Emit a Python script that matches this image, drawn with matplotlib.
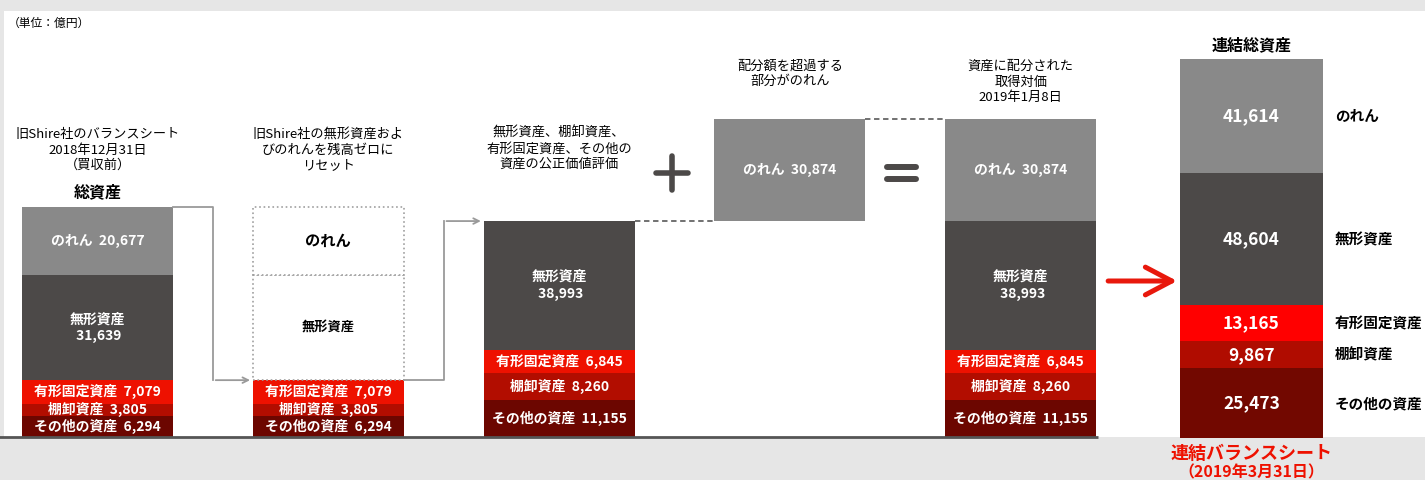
import matplotlib.pyplot as plt
from matplotlib.patches import Rectangle
from matplotlib.transforms import blended_transform_factory

plt.rcParams['font.family'] = ['Noto Sans CJK JP', 'DejaVu Sans']

# 単位：億円、上から のれん / 無形資産 / 有形固定資産 / 棚卸資産 / その他の資産
items = ['のれん', '無形資産', '有形固定資産', '棚卸資産', 'その他の資産']
shire_before = [20677, 31639, 7079, 3805, 6294]
fair_value = [0, 38993, 6845, 8260, 11155]
goodwill_excess = 30874
acquired = [30874, 38993, 6845, 8260, 11155]
consolidated = [41614, 48604, 13165, 9867, 25473]

titles = [
    '旧Shire社のバランスシート\n2018年12月31日\n（買収前）',
    '旧Shire社の無形資産およ\nびのれんを残高ゼロに\nリセット',
    '無形資産、棚卸資産、\n有形固定資産、その他の\n資産の公正価値評価',
    '配分額を超過する\n部分がのれん',
    '資産に配分された\n取得対価\n2019年1月8日',
]
title_px = [150, 150, 149, 74, 82]

colors = ['#898989', '#4c4948', '#ee1100', '#b20d00', '#6c0600']
colors_last = ['#898989', '#4c4948', '#ff0000', '#b00c00', '#720800']
line_gray = '#9a9a9a'
dark = '#4c4948'

W = 0.654
fig = plt.figure(figsize=(14.25, 4.8), dpi=100, facecolor='#e6e6e6')
fig.patches.append(Rectangle((4 / 1425, 43 / 480), 1, (437 - 11) / 480,
                             transform=fig.transFigure, facecolor='white',
                             edgecolor='none', zorder=-10))

ax = fig.add_axes([0, 0, 1, 1])
ax.set_xlim(-0.4225, 5.752)
ax.set_ylim(-12995, 132061)
ax.axis('off')
ax2 = ax.twinx()
ax2.set_ylim(-15372, 160308)
ax2.axis('off')

tr = blended_transform_factory(ax.transData, fig.transFigure)


def seg_label(name, v):
    if name == '無形資産':
        return f'{name}\n {v:,}'
    return f'{name}  {v:,}'


def stack(axis, x, vals, cols, width):
    # 下から積み上げ（その他の資産が一番下）
    bottom = 0
    pos = {}
    for name, v, c in reversed(list(zip(items, vals, cols))):
        if v:
            axis.bar(x, v, width, bottom=bottom, color=c, linewidth=0)
        pos[name] = (bottom, v)
        bottom += v
    return pos


# 1本目：買収前
p = stack(ax, 0, shire_before, colors, W)
for name, (b, v) in p.items():
    ax.text(0, b + v / 2, seg_label(name, v), ha='center', va='center',
            color='white', fontsize=10, fontweight='bold', linespacing=1.3)

# 2本目：のれん・無形資産をゼロにリセット
reset = [0, 0] + shire_before[2:]
p2 = stack(ax, 1, reset, colors, W)
for name, (b, v) in p2.items():
    if v:
        ax.text(1, b + v / 2, seg_label(name, v), ha='center', va='center',
                color='white', fontsize=10, fontweight='bold')
base2 = sum(shire_before[2:])
for name, v in zip(items[1::-1], shire_before[1::-1]):
    ax.bar(1, v, W, bottom=base2, facecolor='white', edgecolor='#a0a0a0',
           linestyle=':', linewidth=1.2)
    ax.text(1, base2 + v / 2, name, ha='center', va='center', color='black',
            fontsize=11 if name == 'のれん' else 9.5, fontweight='bold')
    base2 += v

# 3本目：公正価値評価
p3 = stack(ax, 2, fair_value, colors, W)
for name, (b, v) in p3.items():
    if v:
        ax.text(2, b + v / 2, seg_label(name, v), ha='center', va='center',
                color='white', fontsize=10, fontweight='bold', linespacing=1.3)

# のれん（超過分）
fv_total = sum(fair_value)
ax.bar(3, goodwill_excess, W, bottom=fv_total, color=colors[0], linewidth=0)
ax.text(3, fv_total + goodwill_excess / 2, seg_label('のれん', goodwill_excess),
        ha='center', va='center', color='white', fontsize=10, fontweight='bold')

# 4本目：取得対価
p4 = stack(ax, 4, acquired, colors, W)
for name, (b, v) in p4.items():
    ax.text(4, b + v / 2, seg_label(name, v), ha='center', va='center',
            color='white', fontsize=10, fontweight='bold', linespacing=1.3)

# 5本目：連結総資産（別スケール）
p5 = stack(ax2, 5, consolidated, colors_last, 0.62)
for name, (b, v) in p5.items():
    ax2.text(5, b + v / 2, f'{v:,}', ha='center', va='center', color='white',
             fontsize=12.5, fontweight='bold')
    ax2.text(5.362, b + v / 2, name, ha='left', va='center', color='black',
             fontsize=10.5, fontweight='bold')

# 基準線
ax.hlines(0, -0.43, 4 + W / 2 + 0.01, color='#555555', lw=2)

# 矢印付きコネクタ
total1 = sum(shire_before)
xm = (0 + W / 2 + 1 - W / 2) / 2
ax.plot([W / 2, xm, xm], [total1, total1, base2 - sum(shire_before[:2])],
        color=line_gray, lw=1.3)
ax.annotate('', xy=(1 - W / 2, sum(shire_before[2:])),
            xytext=(xm, sum(shire_before[2:])),
            arrowprops=dict(arrowstyle='->', color=line_gray, lw=1.3))
xm2 = (1 + W / 2 + 2 - W / 2) / 2
ax.plot([1 + W / 2, xm2, xm2], [sum(shire_before[2:]), sum(shire_before[2:]), fv_total],
        color=line_gray, lw=1.3)
ax.annotate('', xy=(2 - W / 2, fv_total), xytext=(xm2, fv_total),
            arrowprops=dict(arrowstyle='->', color=line_gray, lw=1.3))

# 破線
ax.plot([2 + W / 2, 3 - W / 2], [fv_total, fv_total], ls=(0, (3, 2)), color='#666666', lw=1.3)
top4 = fv_total + goodwill_excess
ax.plot([3 + W / 2, 4 - W / 2], [top4, top4], ls=(0, (3, 2)), color='#666666', lw=1.3)

# ＋ と ＝
gy = (437 - 173) * 302.2
cx = 2.489
ax.plot([cx - 0.07, cx + 0.07], [gy, gy], color=dark, lw=4, solid_capstyle='round')
ax.plot([cx, cx], [gy - 5000, gy + 5000], color=dark, lw=4, solid_capstyle='round')
ex = 3.483
for dy in (1700, -1700):
    ax.plot([ex - 0.062, ex + 0.062], [gy + dy, gy + dy], color=dark, lw=4.3,
            solid_capstyle='round')

# 赤い矢印
ay = (437 - 281) * 302.2
ax.annotate('', xy=(5 - 0.31, ay), xytext=(4 + W / 2 + 0.04, ay),
            arrowprops=dict(arrowstyle='->,head_length=0.95,head_width=0.5',
                            mutation_scale=20, color='#e8180c', lw=3.6,
                            capstyle='round', joinstyle='round'))

# タイトル類
for i, (t, py) in enumerate(zip(titles, title_px)):
    ax.text(i, 1 - py / 480, t, transform=tr, ha='center', va='center',
            fontsize=9.5, linespacing=1.25)
ax.text(0, 1 - 192 / 480, '総資産', transform=tr, ha='center', va='center',
        fontsize=11.5, fontweight='bold')
ax.text(5, 1 - 45 / 480, '連結総資産', transform=tr, ha='center', va='center',
        fontsize=11.5, fontweight='bold')
ax.text(5, 1 - 453 / 480, '連結バランスシート', transform=tr, ha='center',
        va='center', fontsize=13, fontweight='bold', color='#ee1100')
ax.text(5, 1 - 472 / 480, '（2019年3月31日）', transform=tr, ha='center',
        va='center', fontsize=11.5, fontweight='bold', color='#ee1100')
fig.text(8 / 1425, 1 - 23 / 480, '（単位：億円）', ha='left', va='center',
         fontsize=8.5)

fig.savefig('out.png', dpi=100, facecolor=fig.get_facecolor())
